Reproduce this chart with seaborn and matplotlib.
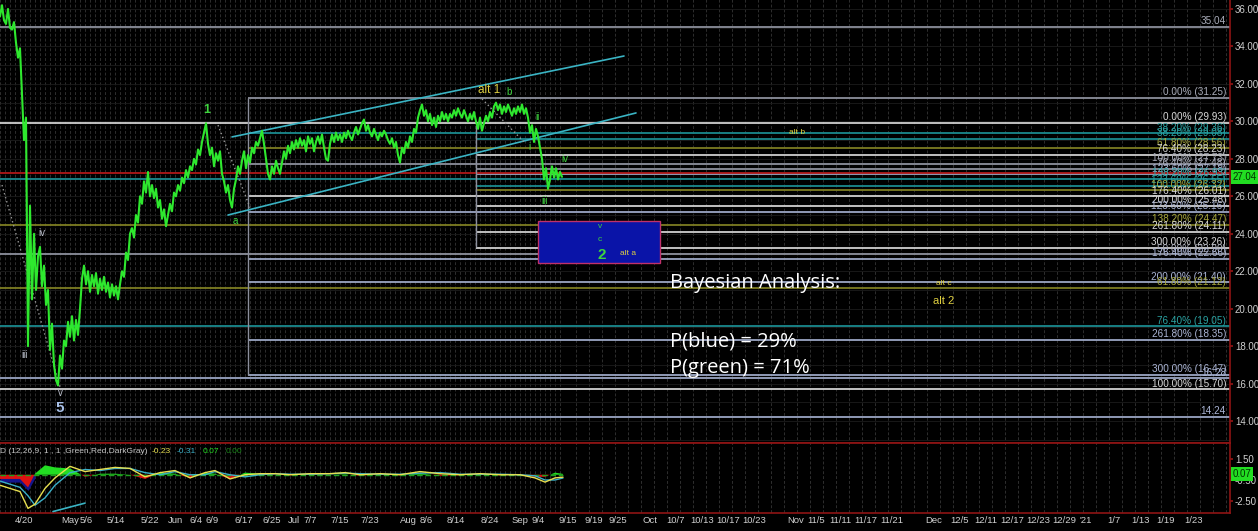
import numpy as np
import pandas as pd
import matplotlib
matplotlib.use("Agg")
import matplotlib.pyplot as plt
import seaborn as sns
from matplotlib.patches import Rectangle

# ---- price (one close every bar) ----
close = [
    35.6, 36.2, 35.4, 35.2, 36.0, 35.0, 34.9, 35.3, 34.2, 33.4,
    33.9, 31.5, 29.0, 30.2, 18.0, 25.5, 20.5, 24.0, 21.0, 22.8,
    23.3, 21.2, 22.3, 20.2, 21.0, 17.8, 19.2, 17.0, 16.2, 15.9,
    17.5, 16.8, 18.3, 18.0, 19.3, 18.5, 19.6, 18.3, 19.4, 18.6,
    20.0, 21.6, 22.3, 21.3, 22.0, 20.9, 21.8, 21.2, 21.9, 20.8,
    21.6, 21.0, 21.7, 20.9, 21.4, 20.6, 21.3, 20.7, 21.2, 20.5,
    21.3, 22.0, 21.7, 23.0, 22.6, 24.0, 24.3, 23.8, 25.0, 24.6,
    26.0, 25.6, 26.8, 26.2, 27.3, 26.0, 26.6, 25.9, 26.4, 25.4,
    25.8, 24.8, 25.3, 24.4, 25.0, 25.6, 25.2, 26.2, 26.0, 26.6,
    26.3, 27.0, 26.7, 27.4, 27.0, 27.6, 27.4, 28.0, 27.7, 28.5,
    28.2, 28.9, 29.4, 29.9, 28.8, 28.2, 28.6, 27.6, 28.3, 27.9,
    28.4, 27.2, 26.8, 26.2, 26.6, 25.8, 25.4, 26.4, 26.9, 27.6,
    27.2, 27.9, 28.4, 27.5, 28.2, 27.8, 28.6, 28.3, 28.9, 28.7,
    29.1, 29.5, 28.8, 28.0, 27.2, 26.9, 27.6, 27.2, 27.9, 27.5,
    27.2, 27.8, 28.4, 28.0, 28.7, 28.3, 28.9, 28.5, 29.0, 28.6,
    29.1, 28.7, 29.0, 28.4, 29.2, 28.8, 29.1, 28.4, 28.9, 29.2,
    28.8, 29.3, 28.6, 28.0, 27.9, 28.8, 29.3, 28.9, 29.4, 29.0,
    29.3, 28.9, 29.4, 29.1, 29.5, 29.2, 29.0, 29.4, 29.7, 29.3,
    29.6, 29.9, 30.1, 29.5, 29.8, 29.4, 29.2, 29.6, 29.3, 29.0,
    29.4, 29.2, 29.5, 29.3, 29.0, 28.8, 29.1, 28.6, 28.9, 28.2,
    27.8, 28.6, 28.3, 28.9, 28.6, 29.2, 28.9, 29.6, 29.4, 30.2,
    30.6, 30.9, 30.3, 30.6, 30.0, 30.4, 29.8, 30.2, 29.7, 30.3,
    30.0, 30.5, 30.1, 30.4, 30.0, 30.4, 30.2, 30.6, 30.3, 30.7,
    30.4, 30.2, 30.6, 30.3, 30.0, 30.4, 30.1, 30.5, 30.0, 29.6,
    30.2, 29.5, 29.9, 30.3, 30.0, 30.5, 30.2, 30.8, 31.0, 30.6,
    30.9, 30.4, 30.8, 30.5, 30.9, 30.6, 30.3, 30.7, 30.4, 30.8,
    30.5, 30.9, 30.4, 30.7, 30.2, 29.4, 29.8, 28.9, 29.6, 29.2,
    28.6, 28.0, 26.9, 27.5, 26.4, 26.9, 27.6, 27.0, 27.5, 26.9,
    27.3, 27.04,
]
last_price = 27.04

# ---- MACD panel ----
macd_bars = [0, 5, 10, 14, 17.5, 22.5, 27.5, 35, 42.5, 50, 57.5, 65, 72.5, 80,
             87.5, 95, 102.5, 107.5, 115, 122.5, 130, 137.5, 145, 155, 165,
             172.5, 180, 190, 200, 210, 220, 230, 240, 250, 260, 267.5, 272.5,
             277.5, 281.5]
macd_line = [-1.0, -1.3, -1.6, -3.2, -2.8, -1.3, -0.3, 0.8, 0.3, 0.5, 0.7, 0.6,
             -0.2, 0.2, 0.4, -0.3, 0.2, 0.4, -0.4, 0.0, 0.1, 0.1, 0.0, 0.1, 0.1,
             0.2, 0.0, 0.1, 0.0, 0.3, 0.1, 0.0, 0.1, 0.0, 0.0, -0.3, -0.7, -0.3,
             -0.23]
signal_line = [-0.6, -0.9, -1.2, -2.0, -2.9, -2.2, -1.0, 0.2, 0.5, 0.4, 0.6, 0.6,
               0.2, 0.0, 0.3, 0.0, 0.0, 0.3, 0.0, -0.2, 0.0, 0.1, 0.05, 0.05, 0.1,
               0.15, 0.1, 0.05, 0.05, 0.15, 0.2, 0.05, 0.05, 0.05, 0.0, -0.1, -0.5,
               -0.5, -0.31]
macd_values = ["-0.23", "-0.31", "0.07", "0.00"]

# ---- x axis labels (bar index) ----
tick_bars = [12, 35, 43, 58, 75, 88, 98, 106, 122, 136, 147, 155, 170, 185, 204,
             213, 228, 245, 260, 269, 284, 297, 309, 325, 338, 351, 364, 377, 398,
             408, 420, 433, 446, 467, 480, 493, 506, 519, 532, 543, 557, 570, 583,
             597]
tick_labels = ["4/20", "May", "5/6", "5/14", "5/22", "Jun", "6/4", "6/9", "6/17",
               "6/25", "Jul", "7/7", "7/15", "7/23", "Aug", "8/6", "8/14", "8/24",
               "Sep", "9/4", "9/15", "9/19", "9/25", "Oct", "10/7", "10/13",
               "10/17", "10/23", "Nov", "11/5", "11/11", "11/17", "11/21", "Dec",
               "12/5", "12/11", "12/17", "12/23", "12/29", "'21", "1/7", "1/13",
               "1/19", "1/23"]

# ---- fibonacci levels ----
fib_prices = [35.04, 31.25, 29.93, 29.36, 29.08, 28.56, 28.23, 27.73, 27.48, 27.18,
              26.93, 26.55, 26.32, 26.01, 25.48, 25.16, 24.47, 24.11, 23.26, 22.90,
              22.66, 21.40, 21.12, 19.05, 18.35, 16.47, 16.28, 15.70, 14.24]
fib_labels = ["35.04", "0.00% (31.25)", "0.00% (29.93)", "38.20% (29.36)",
              "38.20% (29.08)", "61.80% (28.56)", "76.40% (28.23)", "100.00% (27.73)",
              "76.40% (27.48)", "123.60% (27.18)", "138.20% (26.93)", "123.60% (26.55)",
              "100.00% (26.32)", "176.40% (26.01)", "200.00% (25.48)", "123.60% (25.16)",
              "138.20% (24.47)", "261.80% (24.11)", "300.00% (23.26)", "50.00% (22.90)",
              "176.40% (22.66)", "200.00% (21.40)", "61.80% (21.12)", "76.40% (19.05)",
              "261.80% (18.35)", "300.00% (16.47)", "16.28", "100.00% (15.70)", "14.24"]
fib_kinds = ["gray", "gray", "white", "teal", "teal", "olive", "white", "gray",
             "gray", "blue", "teal", "teal", "olive", "white", "white", "blue",
             "olive", "white", "white", "gray", "blue", "blue", "olive", "teal",
             "blue", "blue", "blue", "white", "blue"]
fib_starts = [0, 124, 0, 124, 238, 124, 238, 124, 238, 238, 0, 238, 238, 124, 238,
              124, 0, 238, 238, 0, 124, 124, 0, 0, 124, 124, 0, 0, 0]
red_level = 27.25

# ---- drawn objects (bar, price) ----
channel_upper = [(116, 29.17), (312, 33.49)]
channel_lower = [(114, 25.0), (318, 30.45)]
dotted_paths = [[(1, 26.6), (30, 15.8)], [(109, 29.8), (125, 25.4)],
                [(241, 31.2), (262, 28.9)]]
target_box = (269, 22.44, 330, 24.68)

wave_text = ["1", "a", "alt 1", "b", "ii", "i", "iv", "iii", "iv", "iii", "v", "5",
             "v", "c", "2", "alt a", "alt b", "alt c", "alt 2"]
wave_bar = [103.5, 117.5, 244.5, 254.5, 269, 264.5, 282.5, 272.5, 21, 12.5, 30, 30,
            300, 300, 301, 314, 398.5, 472, 472]
wave_price = [30.61, 24.68, 31.67, 31.57, 30.23, 28.63, 27.99, 25.75, 24.04, 17.53,
              15.5, 14.7, 24.41, 23.67, 22.87, 22.92, 29.43, 21.32, 20.41]
wave_kind = ["g", "g", "y", "g", "g", "g", "g", "g", "w", "w", "w", "b", "g", "g",
             "g", "y", "y", "y", "y"]
wave_size = [9, 7, 8.5, 7, 7, 7, 7, 7, 7, 7, 7, 11, 6, 6, 11, 6, 6, 6, 8]

bayes_lines = ["Bayesian Analysis:", "P(blue) = 29%", "P(green) = 71%"]
bayes_price = [21.37, 18.27, 16.83]

# ---- style ----
sns.set_theme(style="dark")
plt.rcParams["font.family"] = ["Liberation Sans", "DejaVu Sans"]
BG = "#000000"
AXRED = "#8e1414"
line_col = {"white": "#d0d0d0", "gray": "#8c8f9c", "blue": "#9aa6c4",
            "teal": "#1a8a8e", "olive": "#7d7d22"}
text_col = {"white": "#d8d8d8", "gray": "#a8abb8", "blue": "#aab4d4",
            "teal": "#2aa3a3", "olive": "#a6a63a"}
wave_col = {"g": "#3ed43e", "y": "#e0d040", "w": "#b8bcc8", "b": "#a8c0e8"}

fig = plt.figure(figsize=(12.58, 5.31), dpi=100, facecolor=BG)
ax = fig.add_axes([0, 88 / 531, 1230 / 1258, 443 / 531])
ax2 = fig.add_axes([0, 18 / 531, 1230 / 1258, 70 / 531])

for a in (ax, ax2):
    a.set_facecolor(BG)
    a.set_xlim(0, 615)
    for s in ("left", "top"):
        a.spines[s].set_visible(False)
    for s in ("right", "bottom"):
        a.spines[s].set_color(AXRED)
        a.spines[s].set_linewidth(1.2)
    a.yaxis.tick_right()
    a.tick_params(axis="y", colors="#d0d0d0", labelsize=7, length=2, color=AXRED,
                  direction="out", pad=1.5)
    # dense vertical grid like the trading platform
    grid_x = list(np.arange(0, 282, 2.5)) + list(np.arange(288, 615, 6.5))
    a.vlines(grid_x, -100, 100, colors="#2e2e2e", linewidth=0.7,
             linestyles=(0, (3, 2)), zorder=0)

ax.set_ylim(12.83, 36.48)
ax.set_yticks(np.arange(14, 37, 2))
ax.set_yticklabels([f"{v:.2f}" for v in np.arange(14, 37, 2)])
ax.set_xticks([])
ax.hlines(np.arange(13, 37, 1), 0, 615, colors="#1c1c1c", linewidth=0.6, zorder=0)

# fib lines and their labels
for p, lab, k, st in zip(fib_prices, fib_labels, fib_kinds, fib_starts):
    ax.hlines(p, st, 615, colors=line_col[k], linewidth=1.3, zorder=1)
    ax.text(613, p + 0.03, lab, color=text_col[k], fontsize=7.2, ha="right",
            va="bottom", zorder=4)
ax.hlines(red_level, 0, 615, colors="#b01818", linewidth=1.3, zorder=1)
ax.vlines(124, 16.47, 31.25, colors="#8c8f9c", linewidth=1.0, zorder=1)
ax.vlines(238, 23.29, 29.81, colors="#8c8f9c", linewidth=1.0, zorder=1)

# target box
x0, y0, x1, y1 = target_box
ax.add_patch(Rectangle((x0, y0), x1 - x0, y1 - y0, facecolor="#0a14a8",
                       edgecolor="#c0306a", linewidth=1.0, zorder=2))

# channel and dotted wave lines
for seg in (channel_upper, channel_lower):
    ax.plot([seg[0][0], seg[1][0]], [seg[0][1], seg[1][1]], color="#3ab4c4",
            linewidth=1.2, zorder=3)
for seg in dotted_paths:
    ax.plot([seg[0][0], seg[1][0]], [seg[0][1], seg[1][1]], color="#9a9a9a",
            linewidth=1.0, linestyle=(0, (1, 2)), zorder=3)

# price
df_price = pd.DataFrame({"bar": np.arange(len(close)), "close": close})
sns.lineplot(data=df_price, x="bar", y="close", ax=ax, color="#2ee82e",
             linewidth=1.5, zorder=5)
ax.set_xlabel("")
ax.set_ylabel("")

# wave labels
for t, bx, py, k, sz in zip(wave_text, wave_bar, wave_price, wave_kind, wave_size):
    bold = t in ("1", "2", "5")
    ax.text(bx, py, t, color=wave_col[k], fontsize=sz, ha="center", va="center",
            fontweight="bold" if bold else "normal", zorder=6)

for t, py in zip(bayes_lines, bayes_price):
    ax.text(335, py, t, color="white", fontsize=14.5, ha="left", va="center",
            family=["Open Sans", "DejaVu Sans"], zorder=7)

ax.text(1.002, last_price, f"{last_price:.2f}", transform=ax.get_yaxis_transform(),
        color="#003300", fontsize=7, ha="left", va="center", clip_on=False,
        bbox=dict(boxstyle="square,pad=0.2", facecolor="#22dd22", edgecolor="none"),
        zorder=8)

# ---- MACD ----
ax2.set_ylim(-3.64, 3.02)
ax2.set_yticks([1.5, -0.5, -2.5])
ax2.set_yticklabels(["1.50", "-0.50", "-2.50"])
mb = np.array(macd_bars)
hist = np.array(macd_line) - np.array(signal_line)
ax2.fill_between(mb, 0, hist, where=hist >= 0, color="#22dd22", interpolate=True,
                 linewidth=0, zorder=2)
ax2.fill_between(mb, 0, hist, where=hist < 0, color="#dd1111", interpolate=True,
                 linewidth=0, zorder=2)
ax2.fill_between(mb[:5], 0, np.minimum(hist[:5], 0) - 0.3, color="#14148c",
                 linewidth=0, zorder=1)
ax2.hlines(0, 0, 281.5, colors="#1f9f1f", linewidth=1.0, linestyles=(0, (4, 2)),
           zorder=2)
df_macd = pd.DataFrame({"bar": macd_bars, "macd": macd_line, "signal": signal_line})
sns.lineplot(data=df_macd, x="bar", y="signal", ax=ax2, color="#3ab0c8",
             linewidth=1.0, zorder=3)
sns.lineplot(data=df_macd, x="bar", y="macd", ax=ax2, color="#e8e050",
             linewidth=1.0, zorder=4)
ax2.plot([26.5, 42.5], [-3.5, -2.7], color="#3ab4c4", linewidth=1.2, zorder=3)
ax2.set_xlabel("")
ax2.set_ylabel("")

ax2.text(0.0, 0.93, "D (12,26,9, 1 , 1 ,Green,Red,DarkGray)", transform=ax2.transAxes,
         color="#c8c8c8", fontsize=6, ha="left", va="top")
for val, xa, c in zip(macd_values, [0.1235, 0.1435, 0.1645, 0.1835],
                      ["#e8e050", "#3ab0c8", "#22dd22", "#1a8a1a"]):
    ax2.text(xa, 0.93, val, transform=ax2.transAxes, color=c, fontsize=6,
             ha="left", va="top")
ax2.text(1.002, 0.07, "0.07", transform=ax2.get_yaxis_transform(), color="#003300",
         fontsize=7, ha="left", va="center", clip_on=False,
         bbox=dict(boxstyle="square,pad=0.2", facecolor="#22dd22", edgecolor="none"),
         zorder=8)

ax2.set_xticks(tick_bars)
ax2.set_xticklabels(tick_labels)
ax2.tick_params(axis="x", colors="#d0d0d0", labelsize=6.8, length=4, color=AXRED,
                direction="in", pad=2)
ax2.spines["top"].set_visible(True)
ax2.spines["top"].set_color(AXRED)

fig.savefig("out.png", dpi=100, facecolor=BG)
